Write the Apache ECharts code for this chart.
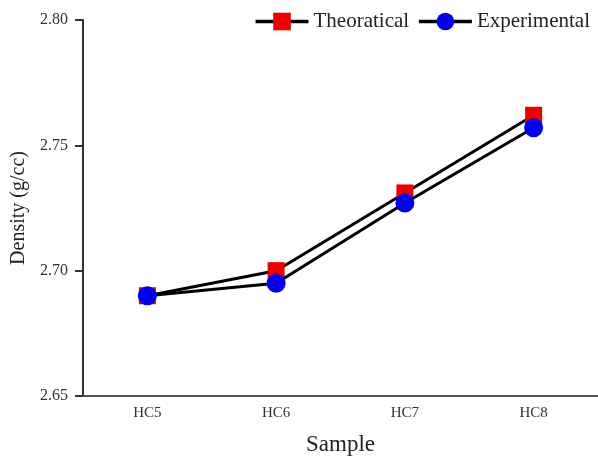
<!DOCTYPE html>
<html><head><meta charset="utf-8">
<script src="https://cdn.jsdelivr.net/npm/echarts@6/dist/echarts.min.js"></script>
<style>html,body{margin:0;padding:0;background:#fff}#c{width:598px;height:459px}</style>
</head><body><div id="c"></div>
<script>
var categories = ['HC5', 'HC6', 'HC7', 'HC8'];
var theoretical = [2.690, 2.700, 2.731, 2.762];
var experimental = [2.690, 2.695, 2.727, 2.757];
var yTicks = [2.65, 2.70, 2.75, 2.80];

var font = '"Liberation Serif", "Times New Roman", serif';
var chart = echarts.init(document.getElementById('c'));
chart.setOption({
  animation: false,
  textStyle: { fontFamily: font },
  legend: {
    right: 3, top: 6,
    itemWidth: 53, itemHeight: 22, itemGap: 8,
    lineStyle: { width: 3.5, color: '#000' },
    textStyle: { fontFamily: font, fontSize: 21, color: '#222' },
    data: ['Theoratical', 'Experimental']
  },
  grid: { left: 83, right: 0, top: 20, bottom: 63, containLabel: false, outerBoundsMode: 'none' },
  xAxis: {
    type: 'category', data: categories, boundaryGap: true,
    name: 'Sample', nameLocation: 'middle', nameGap: 37,
    nameTextStyle: { fontFamily: font, fontSize: 23, color: '#222' },
    axisLine: { lineStyle: { color: '#555', width: 2 } },
    axisTick: { alignWithLabel: true, length: 7, lineStyle: { color: '#333', width: 1.5 } },
    axisLabel: { fontFamily: font, fontSize: 15, color: '#333', margin: 10 }
  },
  yAxis: {
    type: 'value', min: 2.65, max: 2.80, interval: 0.05,
    name: 'Density (g/cc)', nameLocation: 'middle', nameGap: 50, nameRotate: 90,
    nameTextStyle: { fontFamily: font, fontSize: 20, color: '#222' },
    splitLine: { show: false },
    axisLine: { show: true, lineStyle: { color: '#333', width: 2 } },
    axisTick: { show: true, length: 8, lineStyle: { color: '#333', width: 2 } },
    axisLabel: { fontFamily: font, fontSize: 16, color: '#333', margin: 15,
      formatter: function (v) { return v.toFixed(2); } }
  },
  series: [
    { name: 'Theoratical', type: 'line', data: theoretical,
      symbol: 'rect', symbolSize: 17,
      lineStyle: { color: '#000', width: 3 },
      itemStyle: { color: '#ee0000' }, z: 2 },
    { name: 'Experimental', type: 'line', data: experimental,
      symbol: 'circle', symbolSize: 19,
      lineStyle: { color: '#000', width: 3 },
      itemStyle: { color: '#0000ee' }, z: 3 }
  ]
});
</script></body></html>
